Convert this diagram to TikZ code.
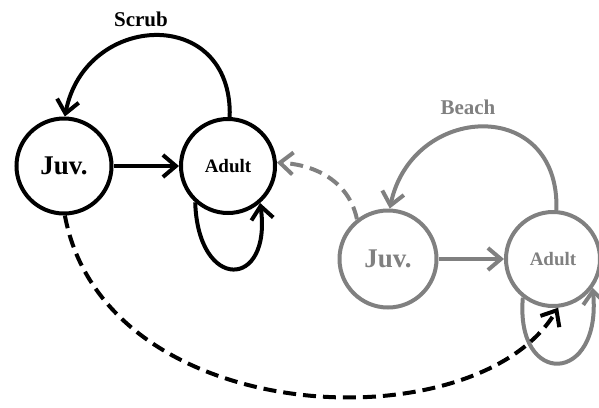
\documentclass[tikz,border=0pt]{standalone}
\usepackage{fontspec}
\setmainfont{Liberation Serif}
\usetikzlibrary{arrows.meta}
\definecolor{gcol}{RGB}{128,128,128}
\begin{document}
\begin{tikzpicture}[x=1pt,y=-1pt,
  state/.style={circle,draw,line width=4pt,inner sep=0pt,font=\bfseries},
  juvtext/.style={font=\bfseries\fontsize{27}{27}\selectfont},
  adulttext/.style={font=\bfseries\fontsize{19}{19}\selectfont},
  habitat/.style={font=\bfseries\fontsize{21}{21}\selectfont},
  edge/.style={line width=4pt,-{Straight Barb[length=13pt,width=22pt,line width=4pt]}},
  dashedge/.style={dash pattern=on 13pt off 7pt}]
\useasboundingbox (0,0) rectangle (599,407);
% black (Scrub)
\node[state,juvtext,minimum size=95pt] (bj) at (64,166) {Juv.};
\node[state,adulttext,minimum size=94pt] (ba) at (228,166) {Adult};
\node[habitat] (scrub) at (141,19) {Scrub};
% gray (Beach)
\node[state,juvtext,draw=gcol,text=gcol,minimum size=97pt] (gj) at (388,259) {Juv.};
\node[state,adulttext,draw=gcol,text=gcol,minimum size=94pt] (ga) at (553,259) {Adult};
\node[habitat,text=gcol] (beach) at (468,107) {Beach};
% black edges
\draw[edge] (bj.east) -- (ba.west);
\draw[edge] (ba.88) .. controls (233,5) and (85,12) .. (bj.89);
\draw[edge] (ba.228) .. controls (198,292) and (272,290) .. (ba.-49);
% gray edges
\draw[edge,gcol] (gj.east) -- (ga.west);
\draw[edge,gcol] (ga.86) .. controls (560,96) and (412,103) .. (gj.88);
\draw[edge,gcol] (ga.232) .. controls (515,388) and (602,385) .. (ga.-36);
% dashed inter-habitat edges
\draw[edge,gcol,dashedge] (gj.128) .. controls (350,185) and (320,165) .. (ba.4);
\draw[edge,dashedge] (bj.-89) .. controls (105,430) and (476,445) .. (ga.-84);
\end{tikzpicture}
\end{document}
